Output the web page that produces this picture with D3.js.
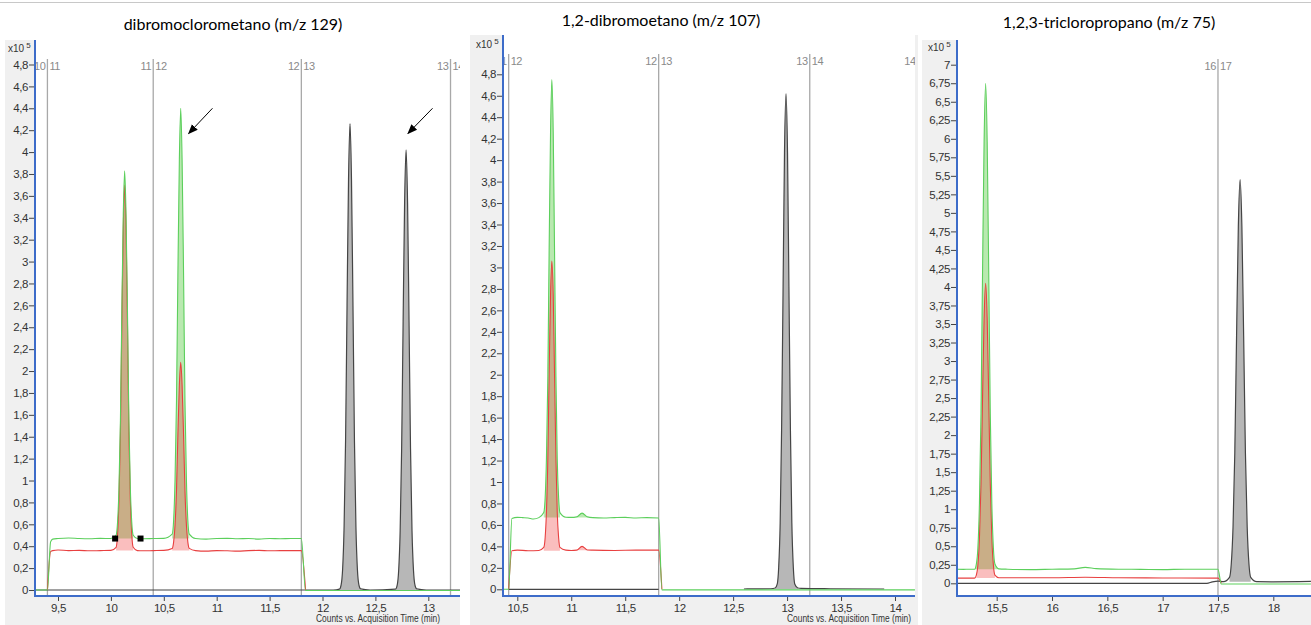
<!DOCTYPE html>
<html>
<head>
<meta charset="utf-8">
<script src="https://cdn.jsdelivr.net/npm/d3@7"></script>
<style>
body { margin: 0; background: #fff; }
svg { display: block; }
.tick text { font-family: 'Liberation Sans', Arial, sans-serif; font-size: 11.5px; letter-spacing: -0.4px; fill: #333; }
.tick line { stroke: #444; }
.seg { font-family: 'Liberation Sans', Arial, sans-serif; font-size: 11px; letter-spacing: -0.4px; fill: #8a8a8a; }
.small { font-family: 'Liberation Sans', Arial, sans-serif; font-size: 11px; fill: #333; }
.title { font-family: Lato, 'Open Sans', sans-serif; font-size: 16px; fill: #000; }
</style>
</head>
<body>
<div id="chart"></div>
<script>
// ---- dibromoclorometano (m/z 129) ----
const xTicks1 = [9.5, 10, 10.5, 11, 11.5, 12, 12.5, 13];
const yTicks1 = [0, 0.2, 0.4, 0.6, 0.8, 1, 1.2, 1.4, 1.6, 1.8, 2, 2.2, 2.4, 2.6, 2.8, 3, 3.2, 3.4, 3.6, 3.8, 4, 4.2, 4.4, 4.6, 4.8];
const bounds1 = [9.40, 10.40, 11.80, 13.21];
const boundLabels1 = [['10', '11'], ['11', '12'], ['12', '13'], ['13', '14']];
const green1 = [[9.28,0],[9.40,0],[9.43,0.44],[9.45,0.465],[9.5,0.47],[9.6,0.475],[9.7,0.47],[9.8,0.468],[9.9,0.472],[10.0,0.47],
  [10.049,0.50],[10.063,0.62],[10.076,0.92],[10.09,1.55],[10.103,2.52],[10.117,3.43],[10.13,3.83],[10.143,3.43],[10.157,2.52],[10.17,1.55],[10.184,0.92],[10.197,0.62],[10.211,0.50],
  [10.25,0.47],[10.3,0.468],[10.4,0.47],[10.5,0.472],
  [10.579,0.51],[10.593,0.64],[10.606,1.00],[10.62,1.73],[10.633,2.87],[10.647,3.93],[10.66,4.40],[10.673,3.93],[10.687,2.87],[10.70,1.73],[10.714,1.00],[10.727,0.64],[10.741,0.51],
  [10.8,0.47],[10.9,0.465],[11.0,0.47],[11.1,0.472],[11.2,0.468],[11.3,0.47],[11.4,0.465],[11.5,0.47],[11.6,0.468],[11.7,0.47],[11.8,0.47],[11.84,-0.005],[13.3,-0.005]];
const red1 = [[9.40,0],[9.43,0.35],[9.45,0.36],[9.5,0.365],[9.6,0.36],[9.7,0.362],[9.8,0.358],[9.9,0.36],[10.0,0.362],
  [10.049,0.39],[10.063,0.51],[10.076,0.81],[10.09,1.43],[10.103,2.40],[10.117,3.30],[10.13,3.70],[10.143,3.30],[10.157,2.40],[10.17,1.43],[10.184,0.81],[10.197,0.51],[10.211,0.39],
  [10.25,0.36],[10.3,0.358],[10.4,0.36],[10.5,0.362],
  [10.579,0.38],[10.593,0.44],[10.606,0.59],[10.62,0.91],[10.633,1.41],[10.647,1.87],[10.66,2.08],[10.673,1.87],[10.687,1.41],[10.70,0.91],[10.714,0.59],[10.727,0.44],[10.741,0.38],
  [10.8,0.36],[10.9,0.355],[11.0,0.36],[11.1,0.358],[11.2,0.355],[11.3,0.36],[11.4,0.362],[11.5,0.358],[11.6,0.36],[11.7,0.36],[11.8,0.36],[11.84,0]];
const black1 = [[9.28,0],[12.10,0],[12.16,0.008],
  [12.176,0.047],[12.19,0.187],[12.204,0.575],[12.218,1.36],[12.232,2.60],[12.246,3.75],[12.26,4.26],[12.274,3.75],[12.288,2.60],[12.302,1.36],[12.316,0.575],[12.33,0.187],[12.344,0.047],
  [12.36,0.01],[12.45,0],[12.69,0.008],
  [12.706,0.044],[12.72,0.18],[12.734,0.54],[12.748,1.29],[12.762,2.45],[12.776,3.54],[12.79,4.02],[12.804,3.54],[12.818,2.45],[12.832,1.29],[12.846,0.54],[12.86,0.18],[12.874,0.044],
  [12.89,0.01],[12.98,0],[13.3,0]];
const greenFills1 = [[10.04, 10.22, 0.47], [10.57, 10.75, 0.47]];
const redFills1 = [[10.04, 10.22, 0.36], [10.57, 10.75, 0.36]];
const blackFills1 = [[12.15, 12.37, 0], [12.68, 12.90, 0]];
const markers1 = [[10.04, 0.47], [10.28, 0.47]];
const arrows1 = [[10.96, 4.40, 10.735, 4.17], [13.04, 4.40, 12.808, 4.17]];

// ---- 1,2-dibromoetano (m/z 107) ----
const xTicks2 = [10.5, 11, 11.5, 12, 12.5, 13, 13.5, 14];
const yTicks2 = yTicks1;
const bounds2 = [10.42, 11.81, 13.21, 14.21];
const boundLabels2 = [['11', '12'], ['12', '13'], ['13', '14'], ['14', '15']];
const green2 = [[10.367,0],[10.42,0],[10.45,0.66],[10.5,0.67],[10.55,0.668],[10.6,0.665],[10.65,0.655],[10.7,0.668],
  [10.745,0.715],[10.758,0.85],[10.77,1.22],[10.783,1.98],[10.795,3.16],[10.808,4.26],[10.82,4.75],[10.833,4.26],[10.845,3.16],[10.858,1.98],[10.87,1.22],[10.883,0.85],[10.895,0.715],
  [10.95,0.672],[11.0,0.67],[11.05,0.675],[11.1,0.71],[11.15,0.675],[11.2,0.668],[11.3,0.665],[11.4,0.668],[11.5,0.67],[11.6,0.665],[11.7,0.668],[11.81,0.665],[11.84,-0.005],[14.185,-0.005]];
const red2 = [[10.42,0],[10.45,0.36],[10.5,0.365],[10.6,0.36],[10.7,0.362],
  [10.745,0.39],[10.758,0.48],[10.77,0.72],[10.783,1.22],[10.795,2.01],[10.808,2.74],[10.82,3.06],[10.833,2.74],[10.845,2.01],[10.858,1.22],[10.87,0.72],[10.883,0.48],[10.895,0.39],
  [10.95,0.365],[11.0,0.362],[11.05,0.365],[11.1,0.40],[11.15,0.367],[11.2,0.365],[11.4,0.362],[11.6,0.365],[11.81,0.365],[11.84,0]];
const black2 = [[10.42,0],[11.81,0],[11.82,NaN],[12.6,0.003],[12.85,0.005],[12.89,0.012],
  [12.909,0.05],[12.922,0.20],[12.936,0.62],[12.949,1.48],[12.963,2.82],[12.976,4.07],[12.99,4.62],[13.004,4.07],[13.017,2.82],[13.031,1.48],[13.044,0.62],[13.058,0.20],[13.071,0.05],
  [13.10,0.012],[13.13,0.008],[13.4,0.005],[13.9,0.003]];
const greenFills2 = [[10.74, 10.90, 0.67], [11.04, 11.16, 0.67]];
const redFills2 = [[10.74, 10.90, 0.36], [11.04, 11.16, 0.365]];
const blackFills2 = [[12.88, 13.11, 0]];

// ---- 1,2,3-tricloropropano (m/z 75) ----
const xTicks3 = [15.5, 16, 16.5, 17, 17.5, 18];
const yTicks3 = [0, 0.25, 0.5, 0.75, 1, 1.25, 1.5, 1.75, 2, 2.25, 2.5, 2.75, 3, 3.25, 3.5, 3.75, 4, 4.25, 4.5, 4.75, 5, 5.25, 5.5, 5.75, 6, 6.25, 6.5, 6.75, 7];
const bounds3 = [17.50];
const boundLabels3 = [['16', '17']];
const green3 = [[15.14,0.19],[15.2,0.188],[15.25,0.19],[15.3,0.19],
  [15.316,0.26],[15.33,0.48],[15.344,1.08],[15.358,2.29],[15.372,4.19],[15.386,5.96],[15.40,6.75],[15.414,5.96],[15.428,4.19],[15.442,2.29],[15.456,1.08],[15.47,0.48],[15.484,0.26],
  [15.52,0.195],[15.6,0.19],[15.8,0.185],[16.0,0.19],[16.2,0.195],[16.3,0.215],[16.4,0.198],[16.6,0.19],[16.8,0.188],[17.0,0.185],[17.2,0.19],[17.4,0.19],[17.5,0.19],[17.53,-0.01],[18.34,-0.01]];
const red3 = [[15.14,0.07],[15.2,0.07],[15.3,0.07],
  [15.316,0.11],[15.33,0.245],[15.344,0.61],[15.358,1.34],[15.372,2.50],[15.386,3.57],[15.40,4.05],[15.414,3.57],[15.428,2.50],[15.442,1.34],[15.456,0.61],[15.47,0.245],[15.484,0.11],
  [15.52,0.075],[15.6,0.075],[16.0,0.075],[16.3,0.082],[16.6,0.075],[17.0,0.072],[17.5,0.07],[17.53,0]];
const black3 = [[15.14,0],[17.4,0],[17.45,0.02],[17.5,0.03],[17.55,0.022],
  [17.604,0.08],[17.62,0.26],[17.636,0.76],[17.652,1.76],[17.668,3.34],[17.684,4.82],[17.70,5.45],[17.716,4.82],[17.732,3.34],[17.748,1.76],[17.764,0.76],[17.78,0.26],[17.796,0.08],
  [17.85,0.022],[18.0,0.02],[18.34,0.025]];
const greenFills3 = [[15.30, 15.52, 0.19]];
const redFills3 = [[15.31, 15.50, 0.07]];
const blackFills3 = [[17.58, 17.82, 0.02]];

const axisTitle = 'Counts vs. Acquisition Time (min)';

const panels = [
  {title: 'dibromoclorometano (m/z 129)', titleX: 233, titleY: 30,
   bg: [5, 40, 455], left: 35, right: 460, top: 40, bottom: 596,
   xDom: [9.5, 13], xRng: [58, 428.3], yDom: [0, 4.8], yRng: [590, 64.5],
   xTicks: xTicks1, yTicks: yTicks1, green: green1, red: red1, black: black1,
   greenFills: greenFills1, redFills: redFills1, blackFills: blackFills1,
   bounds: bounds1, boundLabels: boundLabels1, markers: markers1, arrows: arrows1,
   expX: 8, expY: 52, axisTitleX: 316},
  {title: '1,2-dibromoetano (m/z 107)', titleX: 661, titleY: 26,
   bg: [470, 35, 448], left: 503, right: 915, top: 35, bottom: 596,
   xDom: [10.5, 14], xRng: [517.3, 895], yDom: [0, 4.8], yRng: [589.3, 74.3],
   xTicks: xTicks2, yTicks: yTicks2, green: green2, red: red2, black: black2,
   greenFills: greenFills2, redFills: redFills2, blackFills: blackFills2,
   bounds: bounds2, boundLabels: boundLabels2, markers: [], arrows: [],
   expX: 476, expY: 48, axisTitleX: 787},
  {title: '1,2,3-tricloropropano (m/z 75)', titleX: 1109, titleY: 28,
   bg: [922, 40, 389], left: 957, right: 1311, top: 40, bottom: 596,
   xDom: [15.5, 18], xRng: [996.7, 1273.3], yDom: [0, 7], yRng: [583.3, 64.7],
   xTicks: xTicks3, yTicks: yTicks3, green: green3, red: red3, black: black3,
   greenFills: greenFills3, redFills: redFills3, blackFills: blackFills3,
   bounds: bounds3, boundLabels: boundLabels3, markers: [], arrows: [],
   expX: 928, expY: 51, axisTitleX: null}
];

const fmt = d => String(d).replace('.', ',');

let svg = d3.select('#chart').append('svg')
    .attr('width', 1311)
    .attr('height', 625);

// thin rule at the very top
svg.append('line')
    .attr('x1', 0).attr('x2', 1311).attr('y1', 2.5).attr('y2', 2.5)
    .attr('stroke', '#c8c8c8');

let defs = svg.append('defs');
defs.append('marker')
    .attr('id', 'arrow')
    .attr('markerUnits', 'userSpaceOnUse')
    .attr('markerWidth', 10).attr('markerHeight', 10)
    .attr('refX', 9).attr('refY', 5)
    .attr('orient', 'auto')
    .append('path')
    .attr('d', 'M0,1 L10,5 L0,9 Z')
    .attr('fill', '#000');

panels.forEach(function(p, i) {
    let x = d3.scaleLinear().domain(p.xDom).range(p.xRng);
    let y = d3.scaleLinear().domain(p.yDom).range(p.yRng);

    // grey frame and white plot
    svg.append('rect')
        .attr('x', p.bg[0]).attr('y', p.bg[1])
        .attr('width', p.bg[2]).attr('height', 625 - p.bg[1])
        .attr('fill', '#f0f0f0');
    svg.append('rect')
        .attr('x', p.left).attr('y', p.top)
        .attr('width', p.right - p.left).attr('height', p.bottom - p.top)
        .attr('fill', '#fff');

    defs.append('clipPath').attr('id', 'clip' + i)
        .append('rect')
        .attr('x', p.left).attr('y', p.top)
        .attr('width', p.right - p.left).attr('height', p.bottom - p.top);

    let g = svg.append('g').attr('clip-path', 'url(#clip' + i + ')');

    // time segment boundaries
    g.selectAll('.bound')
        .data(p.bounds)
        .enter().append('line')
        .attr('x1', d => x(d)).attr('x2', d => x(d))
        .attr('y1', p.top + 19).attr('y2', p.bottom)
        .attr('stroke', '#a8a8a8')
        .attr('stroke-width', 1.3);
    p.bounds.forEach(function(b, j) {
        g.append('text').attr('class', 'seg')
            .attr('x', x(b) - 2).attr('y', p.top + 30)
            .attr('text-anchor', 'end')
            .text(p.boundLabels[j][0]);
        g.append('text').attr('class', 'seg')
            .attr('x', x(b) + 2).attr('y', p.top + 30)
            .text(p.boundLabels[j][1]);
    });

    let line = d3.line()
        .defined(d => !isNaN(d[1]))
        .x(d => x(d[0]))
        .y(d => y(d[1]))
        .curve(d3.curveMonotoneX);

    function fills(trace, list, color, opacity) {
        list.forEach(function(f) {
            let part = trace.filter(d => d[0] >= f[0] && d[0] <= f[1] && !isNaN(d[1]));
            let area = d3.area()
                .x(d => x(d[0]))
                .y0(y(f[2]))
                .y1(d => y(d[1]))
                .curve(d3.curveMonotoneX);
            g.append('path')
                .datum(part)
                .attr('d', area)
                .attr('fill', color)
                .attr('fill-opacity', opacity);
        });
    }

    fills(p.black, p.blackFills, '#b7b7b7', 1);
    fills(p.green, p.greenFills, '#b9e9b0', 1);
    fills(p.red, p.redFills, '#f02828', 0.3);

    g.append('path').datum(p.black).attr('d', line)
        .attr('fill', 'none').attr('stroke', '#454545').attr('stroke-width', 1.2);
    g.append('path').datum(p.red).attr('d', line)
        .attr('fill', 'none').attr('stroke', '#e84040').attr('stroke-width', 1.1);
    g.append('path').datum(p.green).attr('d', line)
        .attr('fill', 'none').attr('stroke', '#5ccf5c').attr('stroke-width', 1.1);

    g.selectAll('.mark')
        .data(p.markers)
        .enter().append('rect')
        .attr('x', d => x(d[0]) - 3).attr('y', d => y(d[1]) - 3)
        .attr('width', 6).attr('height', 6)
        .attr('fill', '#000');

    g.selectAll('.arrow')
        .data(p.arrows)
        .enter().append('line')
        .attr('x1', d => x(d[0])).attr('y1', d => y(d[1]))
        .attr('x2', d => x(d[2])).attr('y2', d => y(d[3]))
        .attr('stroke', '#000').attr('stroke-width', 1)
        .attr('marker-end', 'url(#arrow)');

    // axes
    let ya = svg.append('g')
        .attr('transform', 'translate(' + (p.left - 1) + ',0)')
        .call(d3.axisLeft(y).tickValues(p.yTicks).tickFormat(fmt).tickSize(5).tickPadding(1));
    ya.select('.domain').remove();

    let xa = svg.append('g')
        .attr('transform', 'translate(0,' + (p.bottom + 1) + ')')
        .call(d3.axisBottom(x).tickValues(p.xTicks).tickFormat(fmt).tickSize(4).tickPadding(3));
    xa.select('.domain').remove();

    svg.append('line')
        .attr('x1', p.left).attr('x2', p.left)
        .attr('y1', p.top).attr('y2', p.bottom + 1)
        .attr('stroke', '#3d6cc9').attr('stroke-width', 2);
    svg.append('line')
        .attr('x1', p.left).attr('x2', p.right)
        .attr('y1', p.bottom).attr('y2', p.bottom)
        .attr('stroke', '#3d6cc9').attr('stroke-width', 2);

    let ex = svg.append('text').attr('class', 'small')
        .attr('x', p.expX).attr('y', p.expY)
        .style('font-size', '10px')
        .text('x10');
    ex.append('tspan').attr('dx', 2).attr('dy', -4)
        .style('font-size', '8px').text('5');

    if (p.axisTitleX !== null) {
        svg.append('text').attr('class', 'small')
            .attr('x', p.axisTitleX).attr('y', 622)
            .attr('textLength', 124)
            .attr('lengthAdjust', 'spacingAndGlyphs')
            .style('font-size', '10.5px')
            .text(axisTitle);
    }

    svg.append('text').attr('class', 'title')
        .attr('x', p.titleX).attr('y', p.titleY)
        .attr('text-anchor', 'middle')
        .text(p.title);
});
</script>
</body>
</html>
